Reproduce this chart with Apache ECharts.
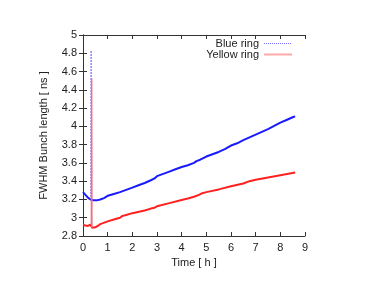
<!DOCTYPE html>
<html><head><meta charset="utf-8">
<script src="https://cdn.jsdelivr.net/npm/echarts@6/dist/echarts.min.js"></script>
<style>html,body{margin:0;padding:0;background:#fff}#c{width:382px;height:295px}</style>
</head><body><div id="c"></div>
<script>
var xTicks = [0,1,2,3,4,5,6,7,8,9];
var yTicks = [2.8,3,3.2,3.4,3.6,3.8,4,4.2,4.4,4.6,4.8,5];

var blueX = [0,0.05,0.1,0.15,0.2,0.25,0.3,0.36,0.45,0.55,0.7,0.85,1.0,1.25,1.5,1.75,2.0,2.25,2.5,2.75,2.9,3.0,3.25,3.5,3.75,4.0,4.25,4.5,4.6,4.75,5.0,5.25,5.5,5.75,6.0,6.25,6.5,6.75,7.0,7.25,7.5,7.75,8.0,8.25,8.5,8.6];
var blueY = [3.28,3.265,3.25,3.235,3.22,3.21,3.20,3.195,3.19,3.19,3.20,3.215,3.24,3.26,3.28,3.305,3.33,3.355,3.38,3.41,3.43,3.455,3.48,3.505,3.53,3.555,3.575,3.60,3.62,3.635,3.67,3.695,3.72,3.75,3.79,3.815,3.85,3.88,3.91,3.94,3.97,4.005,4.04,4.07,4.10,4.11];
var blueSpikeX = [0.32,0.33,0.34];
var blueSpikeY = [3.20,4.83,3.20];

var redX = [0,0.1,0.2,0.25,0.3,0.33,0.37,0.5,0.6,0.7,1.0,1.25,1.5,1.6,1.75,2.0,2.5,2.75,2.9,3.0,3.5,4.0,4.25,4.5,4.7,4.8,5.0,5.5,6.0,6.5,6.75,7.0,7.5,8.0,8.6];
var redY = [2.92,2.915,2.91,2.92,2.925,2.92,2.89,2.895,2.91,2.93,2.96,2.98,3.0,3.02,3.03,3.05,3.08,3.10,3.11,3.125,3.16,3.195,3.21,3.23,3.25,3.265,3.28,3.31,3.345,3.375,3.40,3.415,3.44,3.465,3.495];
var redSpikeX = [0.34,0.35,0.36];
var redSpikeY = [2.92,4.53,2.89];

function pairs(xs, ys){ return xs.map(function(x,i){return [x, ys[i]];}); }

var font = 'Liberation Sans';
var txt = '#222';
var chart = echarts.init(document.getElementById('c'), null, {renderer:'canvas'});
var axisLine = {show:true, lineStyle:{color:'#333', width:1}};
chart.setOption({
  animation:false,
  textStyle:{fontFamily:font},
  legend:{
    orient:'vertical', right:84, top:33, align:'right',
    itemWidth:28, itemHeight:10, itemGap:0,
    textStyle:{fontFamily:font, fontSize:11, color:txt},
    data:[
      {name:'Blue ring', itemStyle:{opacity:0}, lineStyle:{color:'#7777ff', width:1, type:'dotted'}},
      {name:'Yellow ring', itemStyle:{opacity:0}, lineStyle:{color:'#ffa8a8', width:2, type:'solid'}}
    ]
  },
  grid:{left:83, right:77, top:35, bottom:59, containLabel:false},
  xAxis:[{
    type:'value', min:0, max:9, interval:1,
    name:'Time [ h ]', nameLocation:'middle', nameGap:18,
    nameTextStyle:{fontFamily:font, fontSize:11, color:txt},
    axisLine:axisLine, axisTick:{show:true, inside:true, length:4, lineStyle:{color:'#333'}},
    axisLabel:{fontFamily:font, fontSize:11, color:txt, margin:6},
    splitLine:{show:false}
  },{
    type:'value', min:0, max:9, interval:1, position:'top',
    axisLine:axisLine, axisTick:{show:true, inside:true, length:4, lineStyle:{color:'#333'}},
    axisLabel:{show:false}, splitLine:{show:false}
  }],
  yAxis:[{
    type:'value', min:2.8, max:5, interval:0.2,
    name:'FWHM Bunch length [ ns ]', nameLocation:'middle', nameGap:34,
    nameTextStyle:{fontFamily:font, fontSize:11, color:txt},
    axisLine:axisLine, axisTick:{show:true, inside:true, length:4, lineStyle:{color:'#333'}},
    axisLabel:{fontFamily:font, fontSize:11, color:txt, margin:6,
      formatter:function(v){return String(Math.round(v*10)/10);}},
    splitLine:{show:false}
  },{
    type:'value', min:2.8, max:5, interval:0.2, position:'right',
    axisLine:axisLine, axisTick:{show:true, inside:true, length:4, lineStyle:{color:'#333'}},
    axisLabel:{show:false}, splitLine:{show:false}
  }],
  series:[
    {name:'Blue ring', type:'line', symbol:'none', data:pairs(blueX, blueY),
     lineStyle:{color:'#1a1aff', width:2}, itemStyle:{color:'#8888ff'}, z:3},
    {name:'Blue ring', type:'line', symbol:'none', data:pairs(blueSpikeX, blueSpikeY),
     lineStyle:{color:'#8888ff', width:1.5, type:'dotted'}, itemStyle:{color:'#8888ff'}, z:2},
    {name:'Yellow ring', type:'line', symbol:'none', data:pairs(redX, redY),
     lineStyle:{color:'#ff2020', width:2}, itemStyle:{color:'#ffa0a0'}, z:3},
    {name:'Yellow ring', type:'line', symbol:'none', data:pairs(redSpikeX, redSpikeY),
     lineStyle:{color:'#f07080', width:1.5}, itemStyle:{color:'#ffa0a0'}, z:4}
  ]
});
</script></body></html>
